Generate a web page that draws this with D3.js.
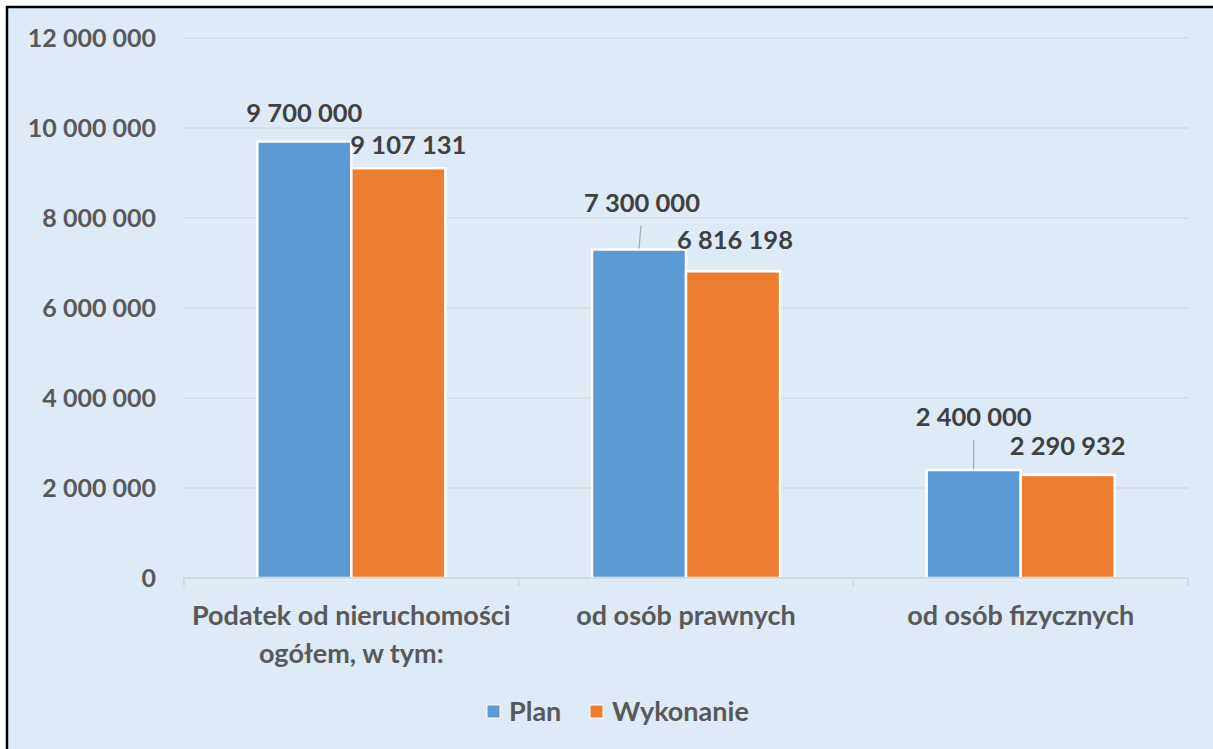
<!DOCTYPE html>
<html lang="pl">
<head>
<meta charset="utf-8">
<script src="https://d3js.org/d3.v7.min.js"></script>
<style>
  body { margin: 0; background: #fff; }
  text { font-family: Lato, "Open Sans", sans-serif; font-weight: bold; }
</style>
</head>
<body>
<svg id="chart"></svg>
<script>
// dane
const categories = ["Podatek od nieruchomości ogółem, w tym:", "od osób prawnych", "od osób fizycznych"];
const categoryLines = [["Podatek od nieruchomości", "ogółem, w tym:"], ["od osób prawnych"], ["od osób fizycznych"]];
const seriesNames = ["Plan", "Wykonanie"];
const planValues = [9700000, 7300000, 2400000];
const execValues = [9107131, 6816198, 2290932];
const yTicks = [0, 2000000, 4000000, 6000000, 8000000, 10000000, 12000000];

const width = 1213, height = 749;
const colors = ["#5b9bd5", "#ed7d31"];
const margin = { left: 184, right: 25, top: 38, bottom: 171 };

const fmt = v => d3.format(",")(v).replace(/,/g, " ");

const svg = d3.select("#chart").attr("width", width).attr("height", height);

// tło i ramka
svg.append("rect").attr("x", 7).attr("y", 7).attr("width", width + 20).attr("height", height + 20)
  .attr("fill", "#deeaf6").attr("stroke", "#000").attr("stroke-width", 2.5);

const x = d3.scaleBand().domain(categories).range([margin.left, width - margin.right]).paddingInner(0).paddingOuter(0);
const xs = d3.scaleBand().domain(seriesNames).range([0, x.bandwidth()]).paddingInner(0).paddingOuter(0.78);
const y = d3.scaleLinear().domain([0, 12000000]).range([height - margin.bottom, margin.top]);

// siatka
svg.append("g").selectAll("line").data(yTicks.slice(1)).join("line")
  .attr("x1", margin.left).attr("x2", width - margin.right)
  .attr("y1", d => y(d)).attr("y2", d => y(d))
  .attr("stroke", "#d6d9dc").attr("stroke-width", 1.5);

// oś Y
const yAxis = svg.append("g").attr("transform", `translate(${margin.left - 28},0)`)
  .call(d3.axisLeft(y).tickValues(yTicks).tickFormat(fmt).tickSize(0).tickPadding(0));
yAxis.select(".domain").remove();
yAxis.selectAll("text").attr("fill", "#595959").style("font-size", "25px").attr("dy", "0.35em");

// słupki
const series = [planValues, execValues];
const groups = svg.append("g").selectAll("g").data(categories).join("g")
  .attr("transform", d => `translate(${x(d)},0)`);

groups.selectAll("rect").data((d, i) => seriesNames.map((s, j) => ({ s, v: series[j][i], j })))
  .join("rect")
  .attr("x", d => xs(d.s))
  .attr("y", d => y(d.v))
  .attr("width", xs.bandwidth())
  .attr("height", d => y(0) - y(d.v))
  .attr("fill", d => colors[d.j])
  .attr("stroke", "#fff").attr("stroke-width", 2.5);

// oś X
const xAxis = svg.append("g").attr("transform", `translate(0,${y(0)})`);
xAxis.append("line").attr("x1", margin.left).attr("x2", width - margin.right)
  .attr("stroke", "#d6d9dc").attr("stroke-width", 2);
const bounds = [0, 1, 2].map(i => x(categories[i])).concat([width - margin.right]);
xAxis.selectAll(".tk").data(bounds).join("line").attr("class", "tk")
  .attr("x1", d => d).attr("x2", d => d).attr("y1", 0).attr("y2", 8)
  .attr("stroke", "#d6d9dc").attr("stroke-width", 2);

categories.forEach((c, i) => {
  const t = svg.append("text").attr("x", x(c) + x.bandwidth() / 2).attr("y", y(0) + 47)
    .attr("text-anchor", "middle").attr("fill", "#595959").style("font-size", "27px");
  categoryLines[i].forEach((ln, k) => {
    t.append("tspan").attr("x", x(c) + x.bandwidth() / 2).attr("dy", k === 0 ? 0 : 38).text(ln);
  });
});

// etykiety danych (przesunięcia ręczne jak w oryginale)
const planLift = [20, 38, 44];
const execShift = [10, 2, 0];
const execLift = [14, 22, 20];
categories.forEach((c, i) => {
  const px = x(c) + xs("Plan") + xs.bandwidth() / 2;
  const ex = x(c) + xs("Wykonanie") + xs.bandwidth() / 2;
  if (planLift[i] > 25) {
    svg.append("line").attr("x1", px).attr("x2", px + (i === 1 ? 2 : 0))
      .attr("y1", y(planValues[i]) - 1).attr("y2", y(planValues[i]) - planLift[i] + 14)
      .attr("stroke", "#a6a6a6").attr("stroke-width", 1.2);
  }
  svg.append("text").attr("x", px + (i === 1 ? 3 : 0)).attr("y", y(planValues[i]) - planLift[i])
    .attr("text-anchor", "middle").attr("fill", "#404040").style("font-size", "25.5px")
    .text(fmt(planValues[i]));
  svg.append("text").attr("x", ex + execShift[i]).attr("y", y(execValues[i]) - execLift[i])
    .attr("text-anchor", "middle").attr("fill", "#404040").style("font-size", "25.5px")
    .text(fmt(execValues[i]));
});

// legenda
const legend = svg.append("g").attr("transform", "translate(487,712)");
const items = [{ n: "Plan", dx: 0 }, { n: "Wykonanie", dx: 103 }];
items.forEach((it, j) => {
  legend.append("rect").attr("x", it.dx).attr("y", -7).attr("width", 13).attr("height", 13)
    .attr("fill", colors[j]).attr("stroke", "#fff").attr("stroke-width", 1);
  legend.append("text").attr("x", it.dx + 22).attr("y", 0).attr("dy", "0.35em")
    .attr("fill", "#595959").style("font-size", "27px").text(it.n);
});
</script>
</body>
</html>
